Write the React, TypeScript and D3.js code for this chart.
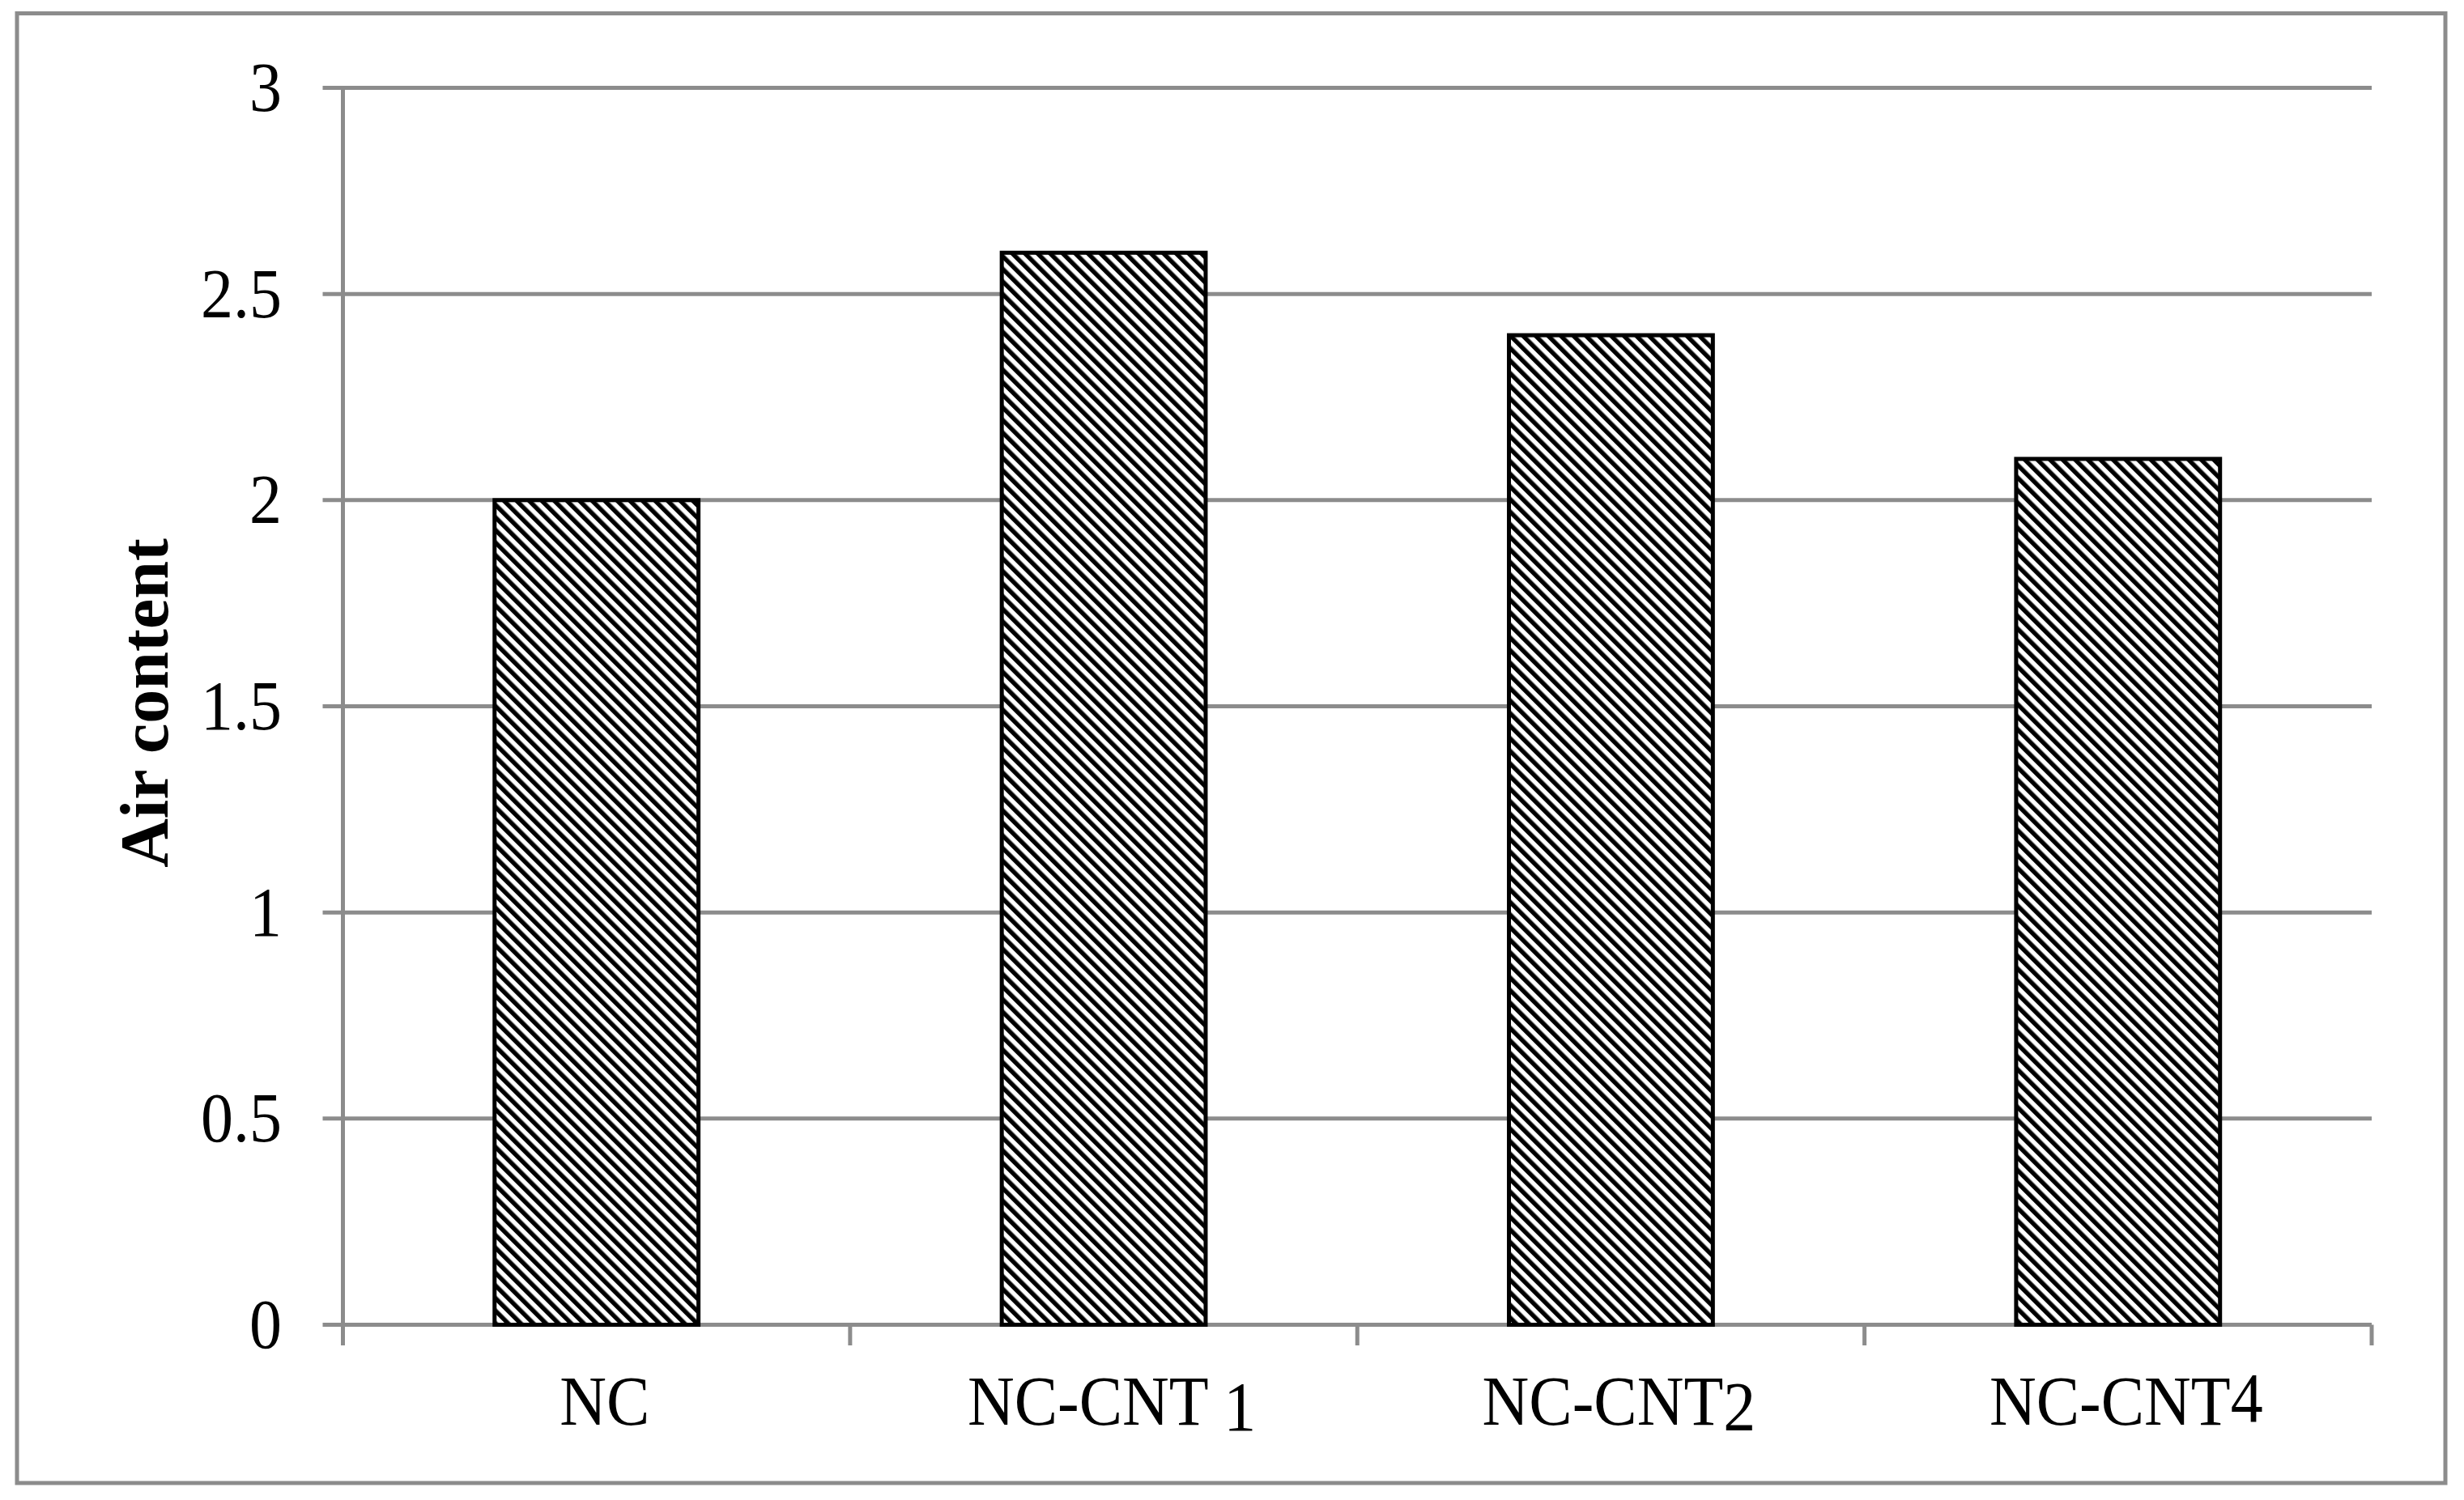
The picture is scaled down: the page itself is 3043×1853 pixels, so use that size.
import React, { useEffect, useRef } from "react";
import * as d3 from "d3";

// chart data
const categories = ["NC", "NC-CNT 1", "NC-CNT2", "NC-CNT4"];
const airContent = [2.0, 2.6, 2.4, 2.1];
const yTicks = [0, 0.5, 1, 1.5, 2, 2.5, 3];
const yLabel = "Air content";

const WIDTH = 3043;
const HEIGHT = 1853;
const GREY = "#8c8c8c";
const FONT = "'Liberation Serif', 'Times New Roman', serif";
const SQUEEZE = 0.93; // original text is a little narrower than Liberation Serif

export default function App() {
  const ref = useRef<SVGSVGElement | null>(null);

  useEffect(() => {
    document.body.style.margin = "0";
    const svg = d3.select(ref.current);
    svg.selectAll("*").remove();

    const left = 423.5;
    const right = 2929;
    const top = 108.5;
    const bottom = 1636.5;

    const x = d3
      .scaleBand<string>()
      .domain(categories)
      .range([left, right])
      .paddingInner(0.598)
      .paddingOuter(0.299);
    const y = d3.scaleLinear().domain([0, 3]).range([bottom, top]);

    // hatch pattern for the bars (wide downward diagonal)
    const defs = svg.append("defs");
    const pat = defs
      .append("pattern")
      .attr("id", "hatch")
      .attr("patternUnits", "userSpaceOnUse")
      .attr("width", 11)
      .attr("height", 11)
      .attr("patternTransform", "rotate(-45)");
    pat.append("rect").attr("width", 11).attr("height", 11).attr("fill", "#fff");
    pat.append("rect").attr("width", 5.5).attr("height", 11).attr("fill", "#000");

    // outer frame
    svg
      .append("rect")
      .attr("x", 21)
      .attr("y", 16.5)
      .attr("width", 2999)
      .attr("height", 1815.5)
      .attr("fill", "none")
      .attr("stroke", GREY)
      .attr("stroke-width", 5);

    // gridlines + y ticks
    svg
      .append("g")
      .selectAll("line")
      .data(yTicks)
      .enter()
      .append("line")
      .attr("x1", left - 25)
      .attr("x2", right)
      .attr("y1", (d) => y(d))
      .attr("y2", (d) => y(d))
      .attr("stroke", GREY)
      .attr("stroke-width", 5);

    // y axis line
    svg
      .append("line")
      .attr("x1", left)
      .attr("x2", left)
      .attr("y1", top)
      .attr("y2", bottom + 25.5)
      .attr("stroke", GREY)
      .attr("stroke-width", 5);

    // x ticks at category boundaries
    const step = x.step();
    svg
      .append("g")
      .selectAll("line")
      .data(d3.range(categories.length + 1))
      .enter()
      .append("line")
      .attr("x1", (i) => left + i * step)
      .attr("x2", (i) => left + i * step)
      .attr("y1", bottom)
      .attr("y2", bottom + 25.5)
      .attr("stroke", GREY)
      .attr("stroke-width", 5);

    // y tick labels
    svg
      .append("g")
      .selectAll("text")
      .data(yTicks)
      .enter()
      .append("text")
      .attr("transform", (d) => `translate(348, ${y(d)}) scale(${SQUEEZE}, 1)`)
      .attr("dy", "0.33em")
      .attr("text-anchor", "end")
      .attr("font-family", FONT)
      .attr("font-size", 86)
      .attr("fill", "#000")
      .text((d) => String(d));

    // bars
    svg
      .append("g")
      .selectAll("rect")
      .data(airContent)
      .enter()
      .append("rect")
      .attr("x", (d, i) => x(categories[i]) as number)
      .attr("y", (d) => y(d))
      .attr("width", x.bandwidth())
      .attr("height", (d) => bottom - y(d))
      .attr("fill", "url(#hatch)")
      .attr("stroke", "#000")
      .attr("stroke-width", 5);

    // category labels (the trailing digit sits a bit off the baseline in the original)
    const digitShift = [0, 7, 7, -4];
    const labels = svg
      .append("g")
      .selectAll("text")
      .data(categories)
      .enter()
      .append("text")
      .attr(
        "transform",
        (d) =>
          `translate(${(x(d) as number) + x.bandwidth() / 2 + 10}, 1760) scale(${SQUEEZE}, 1)`
      )
      .attr("text-anchor", "middle")
      .attr("font-family", FONT)
      .attr("font-size", 86)
      .attr("fill", "#000");
    labels.each(function (d, i) {
      const m = d.match(/^(.*?)(\d)$/);
      const t = d3.select(this);
      if (!m) {
        t.text(d);
        return;
      }
      t.append("tspan").text(m[1]);
      t.append("tspan").attr("dy", digitShift[i]).text(m[2]);
    });

    // y axis title
    svg
      .append("text")
      .attr("transform", `translate(207, ${(top + bottom) / 2 - 4}) rotate(-90)`)
      .attr("text-anchor", "middle")
      .attr("font-family", FONT)
      .attr("font-weight", "bold")
      .attr("font-size", 84)
      .attr("fill", "#000")
      .text(yLabel);
  }, []);

  return (
    <svg
      ref={ref}
      width={WIDTH}
      height={HEIGHT}
      style={{ display: "block", background: "#fff" }}
    />
  );
}
